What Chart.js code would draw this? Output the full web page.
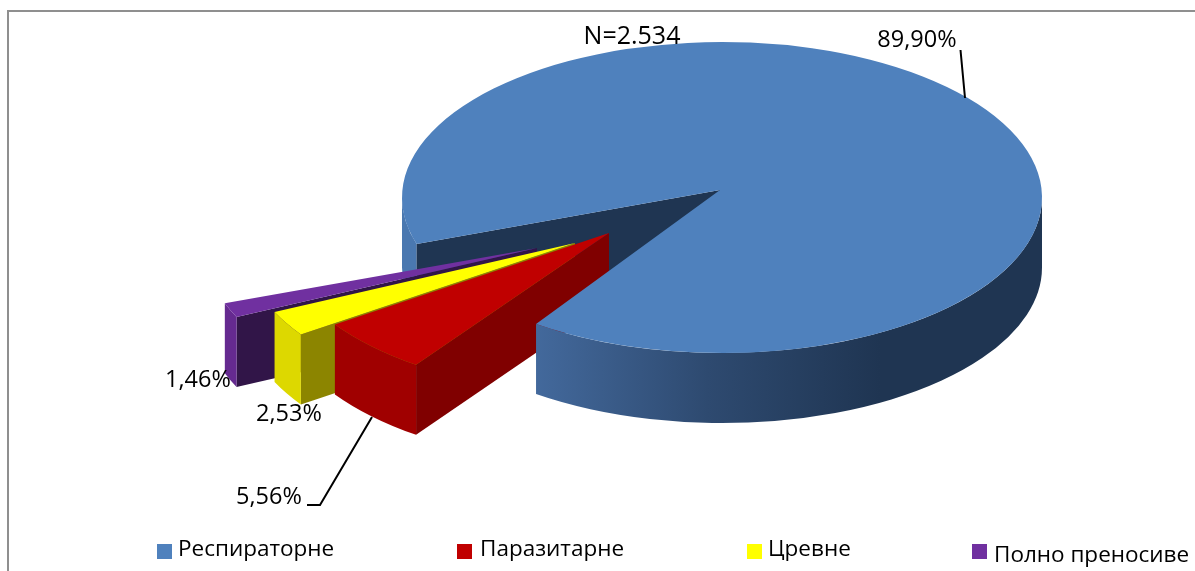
<!DOCTYPE html>
<html>
<head>
<meta charset="utf-8">
<title>Pie</title>
<script src="https://cdn.jsdelivr.net/npm/chart.js@4"></script>
<style>
  html, body { margin: 0; padding: 0; background: #fff; }
  canvas { display: block; }
</style>
</head>
<body>
<canvas id="pieChart" width="1195" height="571"></canvas>
<script>
const categories = ['Респираторне', 'Паразитарне', 'Цревне', 'Полно преносиве'];
const shares = [89.9, 5.56, 2.53, 1.46];
const totalLabel = 'N=2.534';
const sliceColors = ['#4F81BD', '#C00000', '#FFFF00', '#7030A0'];

const FONT = '"Open Sans", sans-serif';
const DEPTH = 70;
const blueShape = { cx: 722, cy: 197.5, rx: 320, ry: 155.5, apexX: 720, apexY: 190 };
// exploded slices: where the tip of each one ends up
const tips = [null, [609, 233], [575, 243], [537, 248]];
const outerWall = [null, '#A00000', '#DDD800', '#652A90'];
const sideWall = [null, '#800000', '#8C8500', '#311548'];
const labelPos = [[917, 40], [269, 497], [289, 414], [198, 380]];
const legendPos = [[157, 178, 550], [457, 480, 550], [747, 768, 550], [972, 994, 556]];

const wedge3d = {
  id: 'wedge3d',
  beforeDatasetsDraw(chart) {
    const ctx = chart.ctx;
    const arcs = chart.getDatasetMeta(0).data;
    const full = Math.PI * 2;

    // back parts of the big slice first, the small ones go over them
    const blue = arcs[0];
    const b = blueShape;
    const startA = blue.startAngle + 2.5 * Math.PI / 180;
    const endA = blue.endAngle;
    const cornerX = b.cx + Math.cos(startA) * b.rx;
    const cornerY = b.cy + Math.sin(startA) * b.ry;

    ctx.fillStyle = '#4A78B0';
    ctx.beginPath();
    ctx.ellipse(b.cx, b.cy, b.rx, b.ry, 0, startA, Math.PI);
    ctx.ellipse(b.cx, b.cy + DEPTH, b.rx, b.ry, 0, Math.PI, startA, true);
    ctx.closePath();
    ctx.fill();

    ctx.fillStyle = '#1F3552';
    ctx.beginPath();
    ctx.moveTo(b.apexX, b.apexY);
    ctx.lineTo(cornerX, cornerY);
    ctx.lineTo(cornerX, cornerY + DEPTH);
    ctx.lineTo(b.apexX, b.apexY + DEPTH);
    ctx.closePath();
    ctx.fill();

    for (let i = arcs.length - 1; i > 0; i--) {
      const [tx, ty] = tips[i];
      const rx = 332;
      const ry = 162;
      const a0 = arcs[i].startAngle % full;
      const a1 = a0 + (arcs[i].endAngle - arcs[i].startAngle);
      const px = tx + Math.cos(a0) * rx;
      const py = ty + Math.sin(a0) * ry;

      ctx.fillStyle = sideWall[i];
      ctx.beginPath();
      ctx.moveTo(tx, ty);
      ctx.lineTo(px, py);
      ctx.lineTo(px, py + DEPTH);
      ctx.lineTo(tx, ty + DEPTH);
      ctx.closePath();
      ctx.fill();

      ctx.fillStyle = outerWall[i];
      ctx.beginPath();
      ctx.ellipse(tx, ty, rx, ry, 0, a0, a1);
      ctx.ellipse(tx, ty + DEPTH, rx, ry, 0, a1, a0, true);
      ctx.closePath();
      ctx.fill();

      ctx.fillStyle = sliceColors[i];
      ctx.beginPath();
      ctx.moveTo(tx, ty);
      ctx.ellipse(tx, ty, rx, ry, 0, a0, a1);
      ctx.closePath();
      ctx.fill();
    }

    // front wall of the big slice, then its top
    const shade = ctx.createLinearGradient(535, 0, 880, 0);
    shade.addColorStop(0, '#43699C');
    shade.addColorStop(0.5, '#2E4A70');
    shade.addColorStop(1, '#1F3552');
    ctx.fillStyle = shade;
    ctx.beginPath();
    ctx.ellipse(b.cx, b.cy, b.rx, b.ry, 0, 0, endA % full);
    ctx.ellipse(b.cx, b.cy + DEPTH, b.rx, b.ry, 0, endA % full, 0, true);
    ctx.closePath();
    ctx.fill();

    ctx.fillStyle = sliceColors[0];
    ctx.beginPath();
    ctx.moveTo(b.apexX, b.apexY);
    ctx.ellipse(b.cx, b.cy, b.rx, b.ry, 0, startA, endA);
    ctx.closePath();
    ctx.fill();

    // the library's own flat pie is not wanted
    return false;
  },
  afterDraw(chart) {
    const ctx = chart.ctx;

    // frame, only top and left in the picture
    ctx.fillStyle = '#8F8F8F';
    ctx.fillRect(7, 10, 1188, 2);
    ctx.fillRect(7, 10, 2, 561);

    // leader lines
    ctx.strokeStyle = '#000';
    ctx.lineWidth = 2;
    ctx.beginPath();
    ctx.moveTo(960.5, 50);
    ctx.lineTo(965, 98);
    ctx.moveTo(307, 505);
    ctx.lineTo(320, 505);
    ctx.lineTo(372, 417);
    ctx.stroke();

    ctx.fillStyle = '#000';
    ctx.textBaseline = 'middle';
    ctx.textAlign = 'center';
    ctx.font = '23.5px ' + FONT;
    shares.forEach((v, i) => {
      const txt = v.toFixed(2).replace('.', ',') + '%';
      ctx.fillText(txt, labelPos[i][0], labelPos[i][1]);
    });
    ctx.font = '25px ' + FONT;
    ctx.fillText(totalLabel, 632, 37);

    ctx.textAlign = 'left';
    ctx.font = '22.5px ' + FONT;
    categories.forEach((c, i) => {
      ctx.fillStyle = sliceColors[i];
      ctx.fillRect(legendPos[i][0], 544, 15, 15);
      ctx.fillStyle = '#000';
      ctx.fillText(c, legendPos[i][1], legendPos[i][2]);
    });
  }
};

new Chart(document.getElementById('pieChart'), {
  type: 'pie',
  data: {
    labels: categories,
    datasets: [{ data: shares, backgroundColor: sliceColors, borderWidth: 0 }]
  },
  options: {
    responsive: false,
    animation: false,
    rotation: 250.1,
    plugins: { legend: { display: false }, tooltip: { enabled: false } }
  },
  plugins: [wedge3d]
});
</script>
</body>
</html>
